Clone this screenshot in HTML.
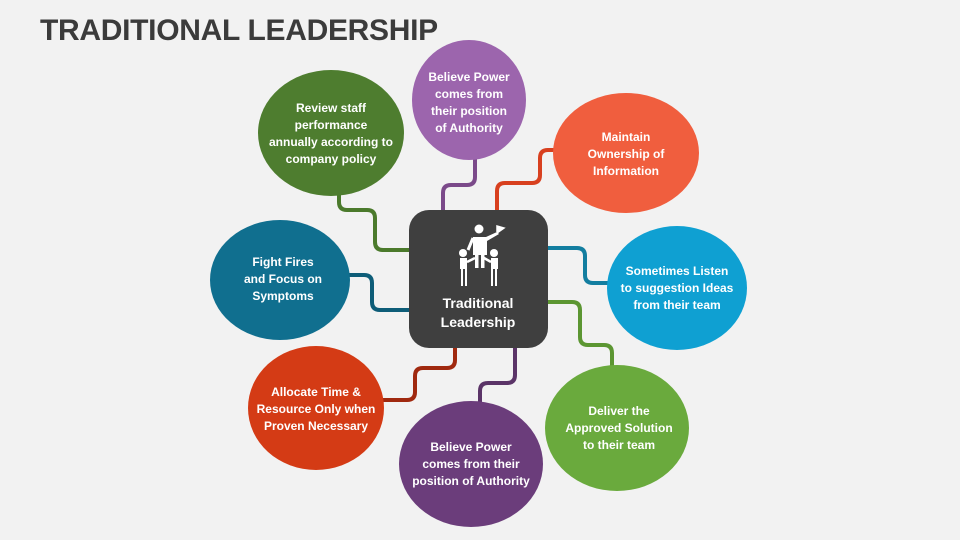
<!DOCTYPE html>
<html><head><meta charset="utf-8"><style>
body{margin:0;background:#f2f2f2;width:960px;height:540px;overflow:hidden;font-family:"Liberation Sans",sans-serif}
.t{position:absolute;left:40px;top:14px;font-size:30px;font-weight:bold;color:#3b3b3b;letter-spacing:-0.3px;white-space:nowrap}
</style></head><body>
<div class="t">TRADITIONAL LEADERSHIP</div>
<svg width="960" height="540" style="position:absolute;left:0;top:0" font-family="Liberation Sans, sans-serif">
<g fill="none" stroke-width="4" stroke-linejoin="round">
<path d="M339 190 V202 Q339 210 347 210 H367 Q375 210 375 218 V242 Q375 250 383 250 H410" stroke="#4b7a2c"/>
<path d="M443 212 V193 Q443 185 451 185 H467 Q475 185 475 177 V155" stroke="#7b4a8a"/>
<path d="M497 212 V191 Q497 183 505 183 H532 Q540 183 540 175 V158 Q540 150 548 150 H560" stroke="#d8401f"/>
<path d="M546 248 H577 Q585 248 585 256 V275 Q585 283 593 283 H610" stroke="#137ea0"/>
<path d="M546 302 H572 Q580 302 580 310 V337 Q580 345 588 345 H604 Q612 345 612 353 V370" stroke="#5c9632"/>
<path d="M515 346 V375 Q515 383 507 383 H488 Q480 383 480 391 V410" stroke="#5b3468"/>
<path d="M455 346 V360 Q455 368 447 368 H423 Q415 368 415 376 V392 Q415 400 407 400 H380" stroke="#a0290f"/>
<path d="M412 310 H380 Q372 310 372 302 V283 Q372 275 364 275 H340" stroke="#0e5d78"/>
</g>
<g font-size="12" font-weight="bold" fill="#fff" text-anchor="middle">
<ellipse cx="331" cy="133" rx="73" ry="63" fill="#4e7d2f"/>
<text x="331" y="112">Review staff</text><text x="331" y="129">performance</text><text x="331" y="146">annually according to</text><text x="331" y="163">company policy</text>
<ellipse cx="469" cy="100" rx="57" ry="60" fill="#9c65ad"/>
<text x="469" y="81">Believe Power</text><text x="469" y="98">comes from</text><text x="469" y="115">their position</text><text x="469" y="132">of Authority</text>
<ellipse cx="626" cy="153" rx="73" ry="60" fill="#f05e3e"/>
<text x="626" y="141">Maintain</text><text x="626" y="158">Ownership of</text><text x="626" y="175">Information</text>
<ellipse cx="677" cy="288" rx="70" ry="62" fill="#0fa0d2"/>
<text x="677" y="275">Sometimes Listen</text><text x="677" y="292">to suggestion Ideas</text><text x="677" y="309">from their team</text>
<ellipse cx="617" cy="428" rx="72" ry="63" fill="#6aaa3d"/>
<text x="619" y="415">Deliver the</text><text x="619" y="432">Approved Solution</text><text x="619" y="449">to their team</text>
<ellipse cx="471" cy="464" rx="72" ry="63" fill="#6b3d7b"/>
<text x="471" y="451">Believe Power</text><text x="471" y="468">comes from their</text><text x="471" y="485">position of Authority</text>
<ellipse cx="316" cy="408" rx="68" ry="62" fill="#d43b15"/>
<text x="316" y="396">Allocate Time &amp;</text><text x="316" y="413">Resource Only when</text><text x="316" y="430">Proven Necessary</text>
<ellipse cx="280" cy="280" rx="70" ry="60" fill="#106f8f"/>
<text x="283" y="266">Fight Fires</text><text x="283" y="283">and Focus on</text><text x="283" y="300">Symptoms</text>
<rect x="409" y="210" width="139" height="138" rx="20" fill="#3f3f3f"/>
<text x="478" y="308" font-size="14">Traditional</text><text x="478" y="327" font-size="14">Leadership</text>
</g>
<g fill="#fff" stroke="#fff">
<circle cx="479" cy="229" r="4.5" stroke="none"/>
<path d="M473 237 H486 L497 232 L499 234 L487 241 V255 H473 Z" stroke="none"/>
<path d="M473 238 L468 250" stroke-width="3" fill="none"/>
<path d="M497 232 V226 L504 228 L497 233" stroke-width="1.5"/>
<rect x="475" y="254" width="3.5" height="14" stroke="none"/><rect x="481" y="254" width="3.5" height="14" stroke="none"/>
<circle cx="463" cy="253" r="4" stroke="none"/><circle cx="494" cy="253" r="4" stroke="none"/>
<rect x="460" y="258" width="7" height="11" stroke="none"/><rect x="491" y="258" width="7" height="11" stroke="none"/>
<path d="M462 268 V286 M466 268 V286 M492 268 V286 M496 268 V286" stroke-width="2"/>
<path d="M467 262 L475 258 M491 262 L484 258" stroke-width="2.5"/>
</g>
</svg>
</body></html>
